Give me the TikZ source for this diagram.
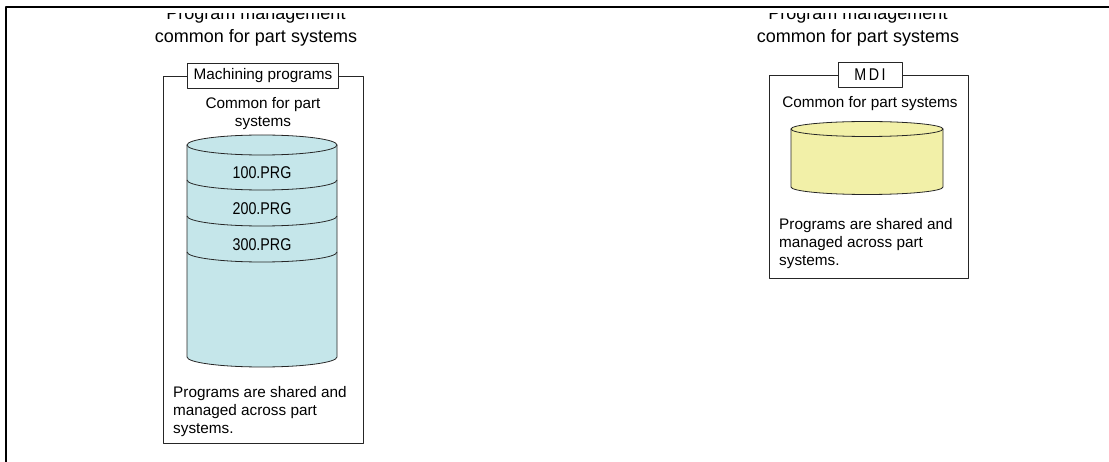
\documentclass[tikz,border=0pt]{standalone}
\usepackage{fontspec}
\setmainfont{Liberation Sans}
\usetikzlibrary{positioning}
\definecolor{drumcyan}{RGB}{197,230,234}
\definecolor{drumyellow}{RGB}{242,240,168}

\begin{document}
\begin{tikzpicture}[x=1pt, y=-1pt, line join=round,
    frame/.style={draw=black!85, line width=0.8pt, inner sep=0pt},
    tag/.style={draw=black!85, line width=0.8pt, fill=white, inner xsep=6pt, inner ysep=0pt, minimum height=25pt, font=\fontsize{15.3}{18}\selectfont},
    body/.style={inner sep=0pt, align=left, font=\fontsize{15.3}{18}\selectfont},
    heading/.style={inner sep=0pt, align=center, font=\fontsize{18}{23}\selectfont},
    prg/.style={inner sep=0pt, font=\fontsize{17}{17}\selectfont},
    drum/.style={draw=black!85, line width=0.8pt}]
  \useasboundingbox (0,0) rectangle (1109,462);
  % outer border
  \draw[line width=2pt] (6,462) -- (6,7) -- (1109,7);
  % titles, cut at the top
  \begin{scope}
    \clip (0,13.5) rectangle (1109,60);
    \node[heading, anchor=south] (titleL) at (256,46) {Program management\\common for part systems};
    \node[heading, anchor=south] (titleR) at (858,46) {Program management\\common for part systems};
  \end{scope}

  % Machining programs
  \node[frame, minimum width=200pt, minimum height=367pt] (frameL) at (263,259.5) {};
  \node[tag] (tagL) at (frameL.north) {Machining programs};
  \node[body, align=center, anchor=north] (commonL) at (263,97.5) {Common for part\\systems};
  \filldraw[drum, fill=drumcyan] (187,145) -- (187,357) arc[start angle=180, end angle=0, x radius=75, y radius=10] -- (337,145) -- cycle;
  \filldraw[drum, fill=drumcyan] (262,145) ellipse[x radius=75, y radius=10];
  \foreach \n/\y in {100/180, 200/216, 300/252} {
    \draw[drum] (187,\y) arc[start angle=180, end angle=0, x radius=75, y radius=10];
    \node[prg] (prg\n) at (262,\y-7) {\scalebox{0.84}[1]{\n.PRG}};
  }
  \node[body, anchor=north west] (sharedL) at (173,386) {Programs are shared and\\managed across part\\systems.};

  % MDI
  \node[frame, minimum width=199pt, minimum height=203pt] (frameR) at (868.5,176.5) {};
  \node[tag, minimum width=64pt, xshift=1.5pt] (tagR) at (frameR.north) {\fontsize{17}{17}\selectfont\scalebox{0.84}[1]{M\hspace{3pt}D\hspace{3pt}I}};
  \node[body, anchor=north] (commonR) at (870,96.5) {Common for part systems};
  \filldraw[drum, fill=drumyellow] (791,129) -- (791,187) arc[start angle=180, end angle=0, x radius=76, y radius=7.5] -- (943,129) -- cycle;
  \filldraw[drum, fill=drumyellow] (867,129) ellipse[x radius=76, y radius=7.5];
  \node[body, anchor=north west] (sharedR) at (779,218) {Programs are shared and\\managed across part\\systems.};
\end{tikzpicture}
\end{document}
